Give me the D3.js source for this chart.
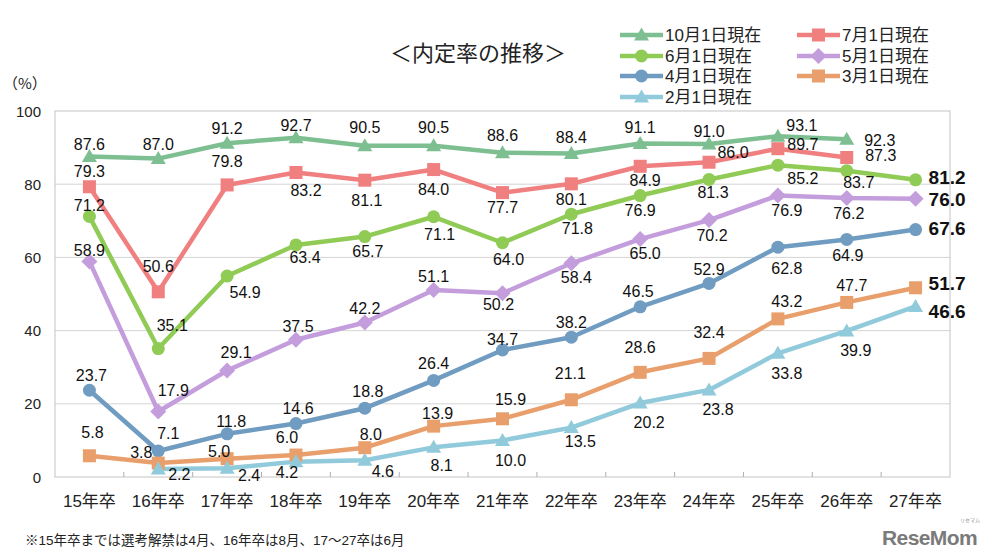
<!DOCTYPE html>
<html>
<head>
<meta charset="utf-8">
<script src="https://cdn.jsdelivr.net/npm/d3@7"></script>
<style>
  body { margin: 0; background: #fff; }
  svg text { font-family: "Liberation Sans", "Noto Sans CJK JP", sans-serif; }
</style>
</head>
<body>
<svg id="chart"></svg>
<script>
// categories and series
const categories = ["15年卒", "16年卒", "17年卒", "18年卒", "19年卒", "20年卒", "21年卒",
  "22年卒", "23年卒", "24年卒", "25年卒", "26年卒", "27年卒"];

const oct1 = [87.6, 87.0, 91.2, 92.7, 90.5, 90.5, 88.6, 88.4, 91.1, 91.0, 93.1, 92.3, null];
const jul1 = [79.3, 50.6, 79.8, 83.2, 81.1, 84.0, 77.7, 80.1, 84.9, 86.0, 89.7, 87.3, null];
const jun1 = [71.2, 35.1, 54.9, 63.4, 65.7, 71.1, 64.0, 71.8, 76.9, 81.3, 85.2, 83.7, 81.2];
const may1 = [58.9, 17.9, 29.1, 37.5, 42.2, 51.1, 50.2, 58.4, 65.0, 70.2, 76.9, 76.2, 76.0];
const apr1 = [23.7, 7.1, 11.8, 14.6, 18.8, 26.4, 34.7, 38.2, 46.5, 52.9, 62.8, 64.9, 67.6];
const mar1 = [5.8, 3.8, 5.0, 6.0, 8.0, 13.9, 15.9, 21.1, 28.6, 32.4, 43.2, 47.7, 51.7];
const feb1 = [null, 2.2, 2.4, 4.2, 4.6, 8.1, 10.0, 13.5, 20.2, 23.8, 33.8, 39.9, 46.6];

const yTicks = [0, 20, 40, 60, 80, 100];

// label placement (dx, dy) per point
const offOct = [[0,-12],[0,-14],[0,-15],[0,-12],[0,-18],[0,-18],[0,-17],[0,-16],[0,-16],[0,-12],[24,-11],[33,1],null];
const offJul = [[0,-15],[0,-25],[0,-23],[10,18],[2,20],[0,20],[0,15],[0,16],[5,14],[24,-10],[25,-4],[34,-2],null];
const offJun = [[0,-11],[14,-23],[18,16],[9,13],[3,15],[6,18],[6,17],[6,14],[0,15],[4,13],[25,13],[12,12],[13,-2]];
const offMay = [[0,-11],[15,-21],[9,-18],[2,-13],[0,-14],[0,-13],[-4,11],[5,14],[5,14],[3,15],[9,15],[2,15],[13,1]];
const offApr = [[2,-15],[10,-18],[4,-12],[2,-15],[3,-17],[0,-17],[0,-10],[0,-15],[-2,-15],[0,-14],[9,21],[1,16],[13,-1]];
const offMar = [[3,-23],[-17,-11],[-8,-7],[-9,-18],[6,-13],[4,-13],[8,-19],[-1,-26],[0,-25],[0,-26],[9,-17],[5,-17],[13,-4]];
const offFeb = [null,[21,6],[22,7],[-9,11],[18,11],[8,18],[8,20],[9,14],[9,19],[9,20],[9,20],[9,20],[13,5]];

const series = [
  { name: "10月1日現在", values: oct1, color: "#7dbf91", shape: "triangle", offs: offOct },
  { name: "7月1日現在",  values: jul1, color: "#f07f80", shape: "square",   offs: offJul },
  { name: "6月1日現在",  values: jun1, color: "#8fcb55", shape: "circle",   offs: offJun },
  { name: "5月1日現在",  values: may1, color: "#c49ddc", shape: "diamond",  offs: offMay },
  { name: "4月1日現在",  values: apr1, color: "#6f9cc0", shape: "circle",   offs: offApr },
  { name: "3月1日現在",  values: mar1, color: "#e89f6c", shape: "square",   offs: offMar },
  { name: "2月1日現在",  values: feb1, color: "#90cadb", shape: "triangle", offs: offFeb }
];

const width = 990, height = 559;
const margin = { top: 111, right: 40, bottom: 82, left: 55 };
const innerW = width - margin.left - margin.right;
const innerH = height - margin.top - margin.bottom;

const svg = d3.select("#chart").attr("width", width).attr("height", height);

const x = d3.scaleBand().domain(categories).range([0, innerW]);
const y = d3.scaleLinear().domain([0, 100]).range([innerH, 0]);
const cx = i => x(categories[i]) + x.bandwidth() / 2;

const g = svg.append("g").attr("transform", `translate(${margin.left},${margin.top})`);

// grid lines
g.selectAll("line.grid")
  .data(yTicks.filter(t => t > 0 && t < 100))
  .join("line")
  .attr("x1", 0).attr("x2", innerW)
  .attr("y1", d => y(d)).attr("y2", d => y(d))
  .attr("stroke", "#d4d4d4").attr("stroke-width", 1);

// plot frame
g.append("rect")
  .attr("x", 0).attr("y", 0)
  .attr("width", innerW).attr("height", innerH)
  .attr("fill", "none").attr("stroke", "#c4c4c4").attr("stroke-width", 1);

// y axis labels
g.selectAll("text.ytick")
  .data(yTicks)
  .join("text")
  .attr("x", -14).attr("y", d => y(d))
  .attr("text-anchor", "end").attr("dominant-baseline", "central")
  .attr("font-size", 15).attr("fill", "#222")
  .text(d => d);

svg.append("text")
  .attr("x", 3).attr("y", 89)
  .attr("font-size", 15).attr("fill", "#222")
  .style("font-family", "'Noto Sans CJK JP', sans-serif")
  .text("（%）");

// x axis: inside ticks at band boundaries
g.selectAll("line.xtick")
  .data(categories.slice(1))
  .join("line")
  .attr("x1", d => x(d)).attr("x2", d => x(d))
  .attr("y1", innerH).attr("y2", innerH - 5)
  .attr("stroke", "#b0b0b0");

g.selectAll("text.xlab")
  .data(categories)
  .join("text")
  .attr("x", (d, i) => cx(i)).attr("y", innerH + 24)
  .attr("text-anchor", "middle").attr("dominant-baseline", "central")
  .attr("font-size", 17).attr("fill", "#222")
  .text(d => d);

// markers
function drawMarker(sel, shape, color, px, py) {
  if (shape === "circle") {
    sel.append("circle").attr("cx", px).attr("cy", py).attr("r", 6.5).attr("fill", color);
  } else if (shape === "square") {
    sel.append("rect").attr("x", px - 6.5).attr("y", py - 6.5)
      .attr("width", 13).attr("height", 13).attr("fill", color);
  } else if (shape === "triangle") {
    sel.append("path").attr("d", `M${px},${py - 7.5}L${px + 7.5},${py + 5.5}L${px - 7.5},${py + 5.5}Z`)
      .attr("fill", color);
  } else {
    sel.append("path").attr("d", `M${px},${py - 8}L${px + 8},${py}L${px},${py + 8}L${px - 8},${py}Z`)
      .attr("fill", color);
  }
}

const line = d3.line()
  .defined(d => d != null)
  .x((d, i) => cx(i))
  .y(d => y(d));

series.forEach(s => {
  g.append("path")
    .datum(s.values)
    .attr("d", line)
    .attr("fill", "none")
    .attr("stroke", s.color)
    .attr("stroke-width", 4.5)
    .attr("stroke-linejoin", "round");
});

series.forEach(s => {
  const mg = g.append("g");
  s.values.forEach((v, i) => {
    if (v == null) return;
    drawMarker(mg, s.shape, s.color, cx(i), y(v));
  });
});

// data labels
series.forEach(s => {
  s.values.forEach((v, i) => {
    if (v == null) return;
    const o = s.offs[i];
    const last = i === categories.length - 1;
    g.append("text")
      .attr("x", cx(i) + o[0])
      .attr("y", y(v) + o[1])
      .attr("text-anchor", last ? "start" : "middle")
      .attr("dominant-baseline", "central")
      .attr("font-size", last ? 19 : 16)
      .attr("font-weight", last ? "bold" : "normal")
      .attr("fill", "#111")
      .text(d3.format(".1f")(v));
  });
});

// title
svg.append("text")
  .attr("x", 478).attr("y", 53)
  .attr("text-anchor", "middle").attr("dominant-baseline", "central")
  .attr("font-size", 22).attr("fill", "#222")
  .text("＜内定率の推移＞");

// legend
const legendPos = [[620, 35], [797, 35], [620, 56], [797, 56], [620, 76], [797, 76], [620, 97]];
series.forEach((s, i) => {
  const [lx, ly] = legendPos[i];
  const lg = svg.append("g");
  lg.append("line")
    .attr("x1", lx).attr("x2", lx + 43)
    .attr("y1", ly).attr("y2", ly)
    .attr("stroke", s.color).attr("stroke-width", 4.5);
  drawMarker(lg, s.shape, s.color, lx + 21.5, ly);
  lg.append("text")
    .attr("x", lx + 45).attr("y", ly)
    .attr("dominant-baseline", "central")
    .attr("font-size", 17).attr("fill", "#222")
    .text(s.name);
});

// footnote
svg.append("text")
  .attr("x", 25).attr("y", 540)
  .attr("dominant-baseline", "central")
  .attr("font-size", 13.5).attr("fill", "#222")
  .text("※15年卒までは選考解禁は4月、16年卒は8月、17～27卒は6月");

// watermark
svg.append("text")
  .attr("x", 882).attr("y", 545)
  .attr("font-size", 21).attr("font-weight", "bold")
  .attr("letter-spacing", -0.6)
  .attr("fill", "#7a7a7a")
  .text("ReseMom");
svg.append("text")
  .attr("x", 960).attr("y", 522)
  .attr("font-size", 5).attr("fill", "#8a8a8a")
  .text("リセマム");
</script>
</body>
</html>
